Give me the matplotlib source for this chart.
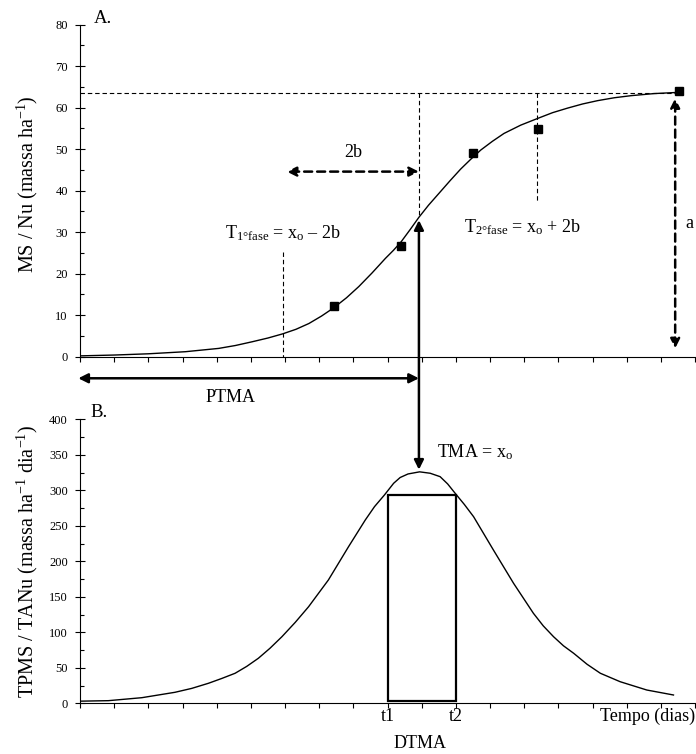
import numpy as np
import matplotlib
matplotlib.use("Agg")
from matplotlib import pyplot as plt
from matplotlib.patches import Rectangle, ConnectionPatch

plt.rcParams.update({
    "font.family": ["Liberation Serif", "DejaVu Serif"],
    "mathtext.fontset": "custom",
    "mathtext.rm": "Liberation Serif",
    "mathtext.it": "Liberation Serif:italic",
    "font.size": 13,
})

# curve A: cumulative dry matter
ms_x = [0, 1, 2, 3.08, 4.06, 4.55, 5.04, 5.5, 5.93, 6.32, 6.70, 7.07, 7.43,
        7.80, 8.16, 8.55, 8.94, 9.17, 9.40, 9.66, 9.92, 10.20, 10.51, 10.83,
        11.14, 11.44, 11.73, 12.07, 12.41, 12.90, 13.39, 13.83, 14.27, 14.71,
        15.15, 15.64, 16.13, 16.80, 17.53]
ms_y = [0.2, 0.4, 0.7, 1.2, 2.0, 2.7, 3.6, 4.5, 5.5, 6.6, 8.0, 9.8, 11.8,
        14.2, 16.9, 20.2, 23.7, 25.6, 27.7, 30.6, 33.6, 36.5, 39.4, 42.4,
        45.2, 47.6, 49.8, 51.9, 53.8, 55.8, 57.4, 58.8, 59.9, 60.9,
        61.7, 62.4, 62.9, 63.4, 63.7]

# observed points
obs_x = [7.43, 9.40, 11.49, 13.41, 17.53]
obs_y = [12.2, 26.7, 49.0, 54.8, 64.0]

# curve B: rate of accumulation
tp_x = [0, 0.83, 1.81, 2.78, 3.27, 3.76, 4.15, 4.54, 4.88, 5.22, 5.56, 5.91,
        6.30, 6.69, 7.27, 7.86, 8.35, 8.62, 8.91, 9.18, 9.37, 9.60, 9.94,
        10.25, 10.54, 10.76, 10.98, 11.25, 11.52, 12.10, 12.69, 13.27, 13.56,
        13.86, 14.15, 14.45, 14.84, 15.23, 15.81, 16.59, 17.37]
tp_y = [3, 3.7, 7.9, 15.5, 21, 28.2, 35, 42.3, 52, 63.4, 77.5, 93.8,
        114, 136, 173.7, 220.6, 258.2, 277, 293.4, 309.9, 318, 323, 326,
        324, 319.2, 309, 295.8, 280, 262.8, 215.9, 169, 126.8, 109,
        93.8, 81, 70.4, 55, 42.3, 30.4, 18.7, 11.7]

a_val = 63.5
x0 = 9.92
t_first = 5.93
t_second = 13.39
t1, t2 = 9, 11
box_low, box_high = 3, 293

fig = plt.figure(figsize=(6.96, 7.54), dpi=100)
W, H = 696, 754
ax1 = fig.add_axes([80 / W, 1 - 356.7 / H, 615 / W, (356.7 - 24.7) / H])
ax2 = fig.add_axes([80 / W, 1 - 703.3 / H, 615 / W, (703.3 - 419.3) / H])

for ax in (ax1, ax2):
    ax.spines["top"].set_visible(False)
    ax.spines["right"].set_visible(False)
    ax.spines["left"].set_linewidth(0.8)
    ax.spines["bottom"].set_linewidth(0.8)
    ax.set_xlim(0, 18)
    ax.set_xticks(np.arange(0, 19, 1))
    ax.set_xticklabels([])
    ax.tick_params(axis="x", direction="out", length=3.5, width=0.8)
    ax.tick_params(axis="y", which="major", direction="inout", length=6.5,
                   width=0.8, labelsize=9, pad=5.5)
    ax.tick_params(axis="y", which="minor", direction="in", length=3.2, width=0.8)

# ---- panel A
ax1.set_ylim(0, 80)
ax1.set_yticks(np.arange(0, 81, 10))
ax1.set_yticks(np.arange(0, 81, 5), minor=True)
ax1.plot(ms_x, ms_y, color="black", lw=1.0)
ax1.plot(obs_x, obs_y, "s", color="black", ms=5.5)

thin = dict(color="black", lw=0.8, ls=(0, (4, 2.6)))
ax1.plot([0, obs_x[-1]], [a_val, a_val], **thin)
ax1.plot([x0, x0], [a_val, 33.6], **thin)
ax1.plot([t_second, t_second], [a_val, 37.6], **thin)
ax1.plot([t_first, t_first], [25.3, 0], **thin, clip_on=False)

thick = dict(arrowstyle="<|-|>", color="black", lw=1.8, ls=(0, (3.2, 2)),
             mutation_scale=14, shrinkA=0, shrinkB=0)
ax1.annotate("", xy=(6.05, 44.6), xytext=(x0, 44.6), arrowprops=thick)
ax1.annotate("", xy=(17.42, 62.3), xytext=(17.42, 2.0), arrowprops=thick)

solid = dict(arrowstyle="<|-|>", color="black", lw=1.8, mutation_scale=14,
             shrinkA=0, shrinkB=0)
ax1.annotate("", xy=(-0.05, -5.2), xytext=(x0, -5.2), arrowprops=solid,
             annotation_clip=False)

ax1.text(0.41, 81.5, "A.", ha="left", va="center", fontsize=13.5)
ax1.text(8.01, 49.2, "2b", ha="center", va="center")
ax1.text(5.94, 29.8, r"T$_{\mathrm{1°fase}}$ = x$_{\mathrm{o}}$ – 2b",
         ha="center", va="center")
ax1.text(12.95, 31.3, r"T$_{\mathrm{2°fase}}$ = x$_{\mathrm{o}}$ + 2b",
         ha="center", va="center")
ax1.text(17.83, 32, "a", ha="center", va="center")
ax1.text(4.4, -9.8, "PTMA", ha="center", va="center")
ax1.set_ylabel(r"MS / Nu (massa ha$^{-1}$)", fontsize=14.5)
ax1.yaxis.set_label_coords(-0.065, 0.52)

# ---- panel B
ax2.set_ylim(0, 400)
ax2.set_yticks(np.arange(0, 401, 50))
ax2.set_yticks(np.arange(0, 401, 25), minor=True)
ax2.plot(tp_x, tp_y, color="black", lw=1.0)
ax2.add_patch(Rectangle((t1, box_low), t2 - t1, box_high - box_low,
                        fill=False, lw=1.6, edgecolor="black"))

ax2.text(0.31, 410, "B.", ha="left", va="center", fontsize=13.5)
ax2.text(10.45, 354, r"TMA = x$_{\mathrm{o}}$", ha="left", va="center")
xt = ax2.get_xaxis_transform()
ax2.text(t1, -0.045, "t1", transform=xt, ha="center", va="center")
ax2.text(t2, -0.045, "t2", transform=xt, ha="center", va="center")
ax2.text(18, -0.045, "Tempo (dias)", transform=xt, ha="right", va="center")
ax2.text(9.96, -0.14, "DTMA", transform=xt, ha="center", va="center")
ax2.set_ylabel(r"TPMS / TANu (massa ha$^{-1}$ dia$^{-1}$)", fontsize=14.5)
ax2.yaxis.set_label_coords(-0.065, 0.5)

# arrow linking the two panels
con = ConnectionPatch(xyA=(x0, 32.9), coordsA=ax1.transData,
                      xyB=(x0, 329), coordsB=ax2.transData,
                      arrowstyle="<|-|>", color="black", lw=1.8,
                      mutation_scale=14, shrinkA=0, shrinkB=0)
fig.add_artist(con)

fig.savefig("out.png", dpi=100)
